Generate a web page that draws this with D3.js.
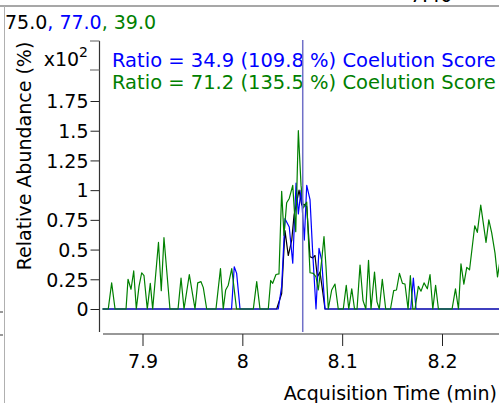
<!DOCTYPE html>
<html>
<head>
<meta charset="utf-8">
<script src="https://cdn.jsdelivr.net/npm/d3@7"></script>
<style>
  html, body { margin: 0; padding: 0; background: #fff; }
  svg { display: block; font-family: "DejaVu Sans", Verdana, sans-serif; }
</style>
</head>
<body>
<svg id="chart" width="499" height="403"></svg>
<script>
// ---------- data ----------
const headerParts = [
  { text: "75.0", color: "#000000" },
  { text: ", 77.0", color: "#0000ff" },
  { text: ", 39.0", color: "#008000" }
];
const legendLines = [
  { text: "Ratio = 34.9 (109.8 %) Coelution Score", color: "#0000ff" },
  { text: "Ratio = 71.2 (135.5 %) Coelution Score", color: "#008000" }
];
const xTicks = [7.9, 8.0, 8.1, 8.2];
const xTickLabels = ["7.9", "8", "8.1", "8.2"];
const yTicks = [0, 0.25, 0.5, 0.75, 1, 1.25, 1.5, 1.75];
const yTickLabels = ["0", "0.25", "0.5", "0.75", "1", "1.25", "1.5", "1.75"];
const markerTime = 8.0605;

// black trace (time in min, abundance x10^2)
const blackTime = [7.8600, 8.0344, 8.0394, 8.0427, 8.0460, 8.0495, 8.0518, 8.0545, 8.0568, 8.0595, 8.0621, 8.0645, 8.0678, 8.0705, 8.0728, 8.0751, 8.0778, 8.0805, 8.0828, 8.2650];
const blackValue = [0, 0, 0.13, 0.66, 0.45, 0.58, 0.79, 0.90, 1.00, 0.875, 0.88, 0.86, 0.44, 0.43, 0.45, 0.27, 0.31, 0.146, 0, 0];

// blue trace
const blueTime = [7.8600, 7.9892, 7.9919, 7.9943, 7.9977, 8.0360, 8.0394, 8.0427, 8.0470, 8.0505, 8.0538, 8.0561, 8.0588, 8.0621, 8.0645, 8.0678, 8.0705, 8.0738, 8.0768, 8.0795, 8.0828, 8.1687, 8.1713, 8.1740, 8.2650];
const blueValue = [0, 0, 0.355, 0.30, 0, 0, 0.19, 0.76, 0.69, 0.385, 1.06, 0.80, 1.00, 0.58, 1.04, 0.92, 0.47, 0, 0.51, 0.41, 0, 0, 0.26, 0, 0];

// green trace
const greenTime = [7.8600, 7.8657, 7.8691, 7.8725, 7.8835, 7.8855, 7.8885, 7.8912, 7.8938, 7.8965, 7.8992, 7.9015, 7.9048, 7.9078, 7.9102, 7.9160, 7.9188, 7.9215, 7.9275, 7.9356, 7.9386, 7.9416, 7.9469, 7.9526, 7.9553, 7.9586, 7.9609, 7.9643, 7.9736, 7.9781, 7.9809, 7.9833, 7.9859, 7.9894, 7.9942, 8.0110, 8.0144, 8.0177, 8.0260, 8.0284, 8.0304, 8.0337, 8.0367, 8.0394, 8.0417, 8.0444, 8.0470, 8.0505, 8.0535, 8.0561, 8.0588, 8.0611, 8.0645, 8.0678, 8.0711, 8.0738, 8.0761, 8.0795, 8.0818, 8.0838, 8.0861, 8.0895, 8.0928, 8.0961, 8.1011, 8.1041, 8.1066, 8.1096, 8.1124, 8.1149, 8.1179, 8.1209, 8.1237, 8.1264, 8.1289, 8.1324, 8.1349, 8.1372, 8.1402, 8.1436, 8.1484, 8.1516, 8.1544, 8.1574, 8.1604, 8.1629, 8.1660, 8.1683, 8.1708, 8.1730, 8.1763, 8.1790, 8.1820, 8.1853, 8.1880, 8.1908, 8.1936, 8.1964, 8.2101, 8.2135, 8.2165, 8.2190, 8.2219, 8.2248, 8.2276, 8.2328, 8.2354, 8.2388, 8.2414, 8.2441, 8.2469, 8.2498, 8.2531, 8.2556, 8.2576, 8.2600];
const greenValue = [0, 0, 0.22, 0, 0, 0.25, 0.166, 0.32, 0, 0.19, 0.305, 0.28, 0, 0.216, 0, 0.56, 0.154, 0.60, 0, 0, 0.26, 0, 0.29, 0, 0.22, 0.23, 0.18, 0, 0, 0.34, 0, 0.16, 0.20, 0.34, 0, 0, 0.23, 0, 0, 0.24, 0.216, 0.29, 0.295, 0.99, 0.62, 0.894, 0.93, 1.04, 0.65, 1.50, 1.04, 0.85, 0.90, 0.305, 0.30, 0.27, 0.16, 0.41, 0.61, 0.356, 0, 0.16, 0.21, 0, 0, 0.20, 0, 0.17, 0, 0, 0.37, 0.07, 0, 0.41, 0, 0.31, 0.06, 0, 0.25, 0, 0, 0.154, 0.16, 0.30, 0.216, 0.21, 0, 0.28, 0, 0, 0.19, 0.15, 0.22, 0.17, 0.29, 0, 0.20, 0, 0, 0.17, 0, 0.38, 0.21, 0.35, 0.33, 0.70, 0.645, 0.875, 0.72, 0.56, 0.75, 0.64, 0.47, 0.27, 0.38, 0.30];

// ---------- drawing ----------
const svg = d3.select("#chart");
const FONT = 19;
const LEGEND_FONT = 19.5;

const x = d3.scaleLinear().domain([7.9, 8.2]).range([142.5, 442]);
const y = d3.scaleLinear().domain([0, 1.75]).range([309, 101]);

// frame decorations
svg.append("line").attr("x1", 0).attr("x2", 499).attr("y1", 6).attr("y2", 6)
  .attr("stroke", "#8a8a8a").attr("stroke-width", 1.5);
svg.append("line").attr("x1", 4.5).attr("x2", 4.5).attr("y1", 6).attr("y2", 403)
  .attr("stroke", "#b0b0b0").attr("stroke-width", 1);
[312, 335].forEach(v => svg.append("line").attr("x1", 0).attr("x2", 3).attr("y1", v).attr("y2", v)
  .attr("stroke", "#333").attr("stroke-width", 1));
svg.append("text").attr("x", 410).attr("y", 2).attr("font-size", FONT).attr("fill", "#000").text("7.40");

// header
const head = svg.append("text").attr("x", 5).attr("y", 29).attr("font-size", FONT);
headerParts.forEach(p => head.append("tspan").attr("fill", p.color).text(p.text));

// y axis
const yAxisG = svg.append("g").attr("transform", "translate(99.5,0)");
yAxisG.call(d3.axisLeft(y).tickValues(yTicks).tickFormat((d, i) => yTickLabels[i]).tickSize(9).tickPadding(2));
yAxisG.select(".domain").remove();
yAxisG.selectAll("text").attr("font-size", FONT).attr("font-family", "DejaVu Sans").attr("fill", "#000").attr("dy", "0.36em");
yAxisG.selectAll("line").attr("stroke", "#222");
svg.append("line").attr("x1", 99.5).attr("x2", 99.5).attr("y1", 41).attr("y2", 332)
  .attr("stroke", "#333").attr("stroke-width", 1.2);
// x10^2 bracket
[41, 70].forEach(v => svg.append("line").attr("x1", 90).attr("x2", 99.5).attr("y1", v).attr("y2", v)
  .attr("stroke", "#777").attr("stroke-width", 1.2));
const mult = svg.append("text").attr("x", 88).attr("y", 66).attr("font-size", FONT).attr("text-anchor", "end");
mult.append("tspan").text("x10");
mult.append("tspan").attr("font-size", 14).attr("dy", -9).text("2");

// y label
svg.append("text").attr("transform", "translate(31,156) rotate(-90)")
  .attr("text-anchor", "middle").attr("font-size", FONT).attr("fill", "#000")
  .text("Relative Abundance (%)");

// x axis
const xAxisG = svg.append("g").attr("transform", "translate(0,334)");
xAxisG.call(d3.axisBottom(x).tickValues(xTicks).tickFormat((d, i) => xTickLabels[i]).tickSize(12).tickPadding(9).tickSizeOuter(0));
xAxisG.select(".domain").remove();
xAxisG.selectAll("text").attr("font-size", FONT).attr("font-family", "DejaVu Sans").attr("fill", "#000");
xAxisG.selectAll("line").attr("stroke", "#222");
svg.append("line").attr("x1", 103).attr("x2", 499).attr("y1", 334).attr("y2", 334)
  .attr("stroke", "#333").attr("stroke-width", 1.2);

svg.append("text").attr("x", 497).attr("y", 400).attr("text-anchor", "end")
  .attr("font-size", FONT).attr("fill", "#000").text("Acquisition Time (min)");

// clip for traces
svg.append("clipPath").attr("id", "plotclip").append("rect")
  .attr("x", 101).attr("y", 30).attr("width", 398).attr("height", 300);

const line = d3.line().x(d => x(d[0])).y(d => y(d[1]));
const series = [
  { t: blackTime, v: blackValue, color: "#000000" },
  { t: blueTime, v: blueValue, color: "#0000ff" },
  { t: greenTime, v: greenValue, color: "#008000" }
];
const tracesG = svg.append("g").attr("clip-path", "url(#plotclip)");
series.forEach(s => {
  tracesG.append("path")
    .datum(s.t.map((t, i) => [t, s.v[i]]))
    .attr("fill", "none").attr("stroke", s.color).attr("stroke-width", 1.2)
    .attr("stroke-linejoin", "round")
    .attr("d", line);
});

// legend
legendLines.forEach((l, i) => {
  svg.append("text").attr("x", 112).attr("y", 67 + i * 22)
    .attr("font-size", LEGEND_FONT).attr("fill", l.color).text(l.text);
});

// marker line
svg.append("line").attr("x1", x(markerTime)).attr("x2", x(markerTime))
  .attr("y1", 40).attr("y2", 332)
  .attr("stroke", "#7070c8").attr("stroke-width", 1.5);
</script>
</body>
</html>
